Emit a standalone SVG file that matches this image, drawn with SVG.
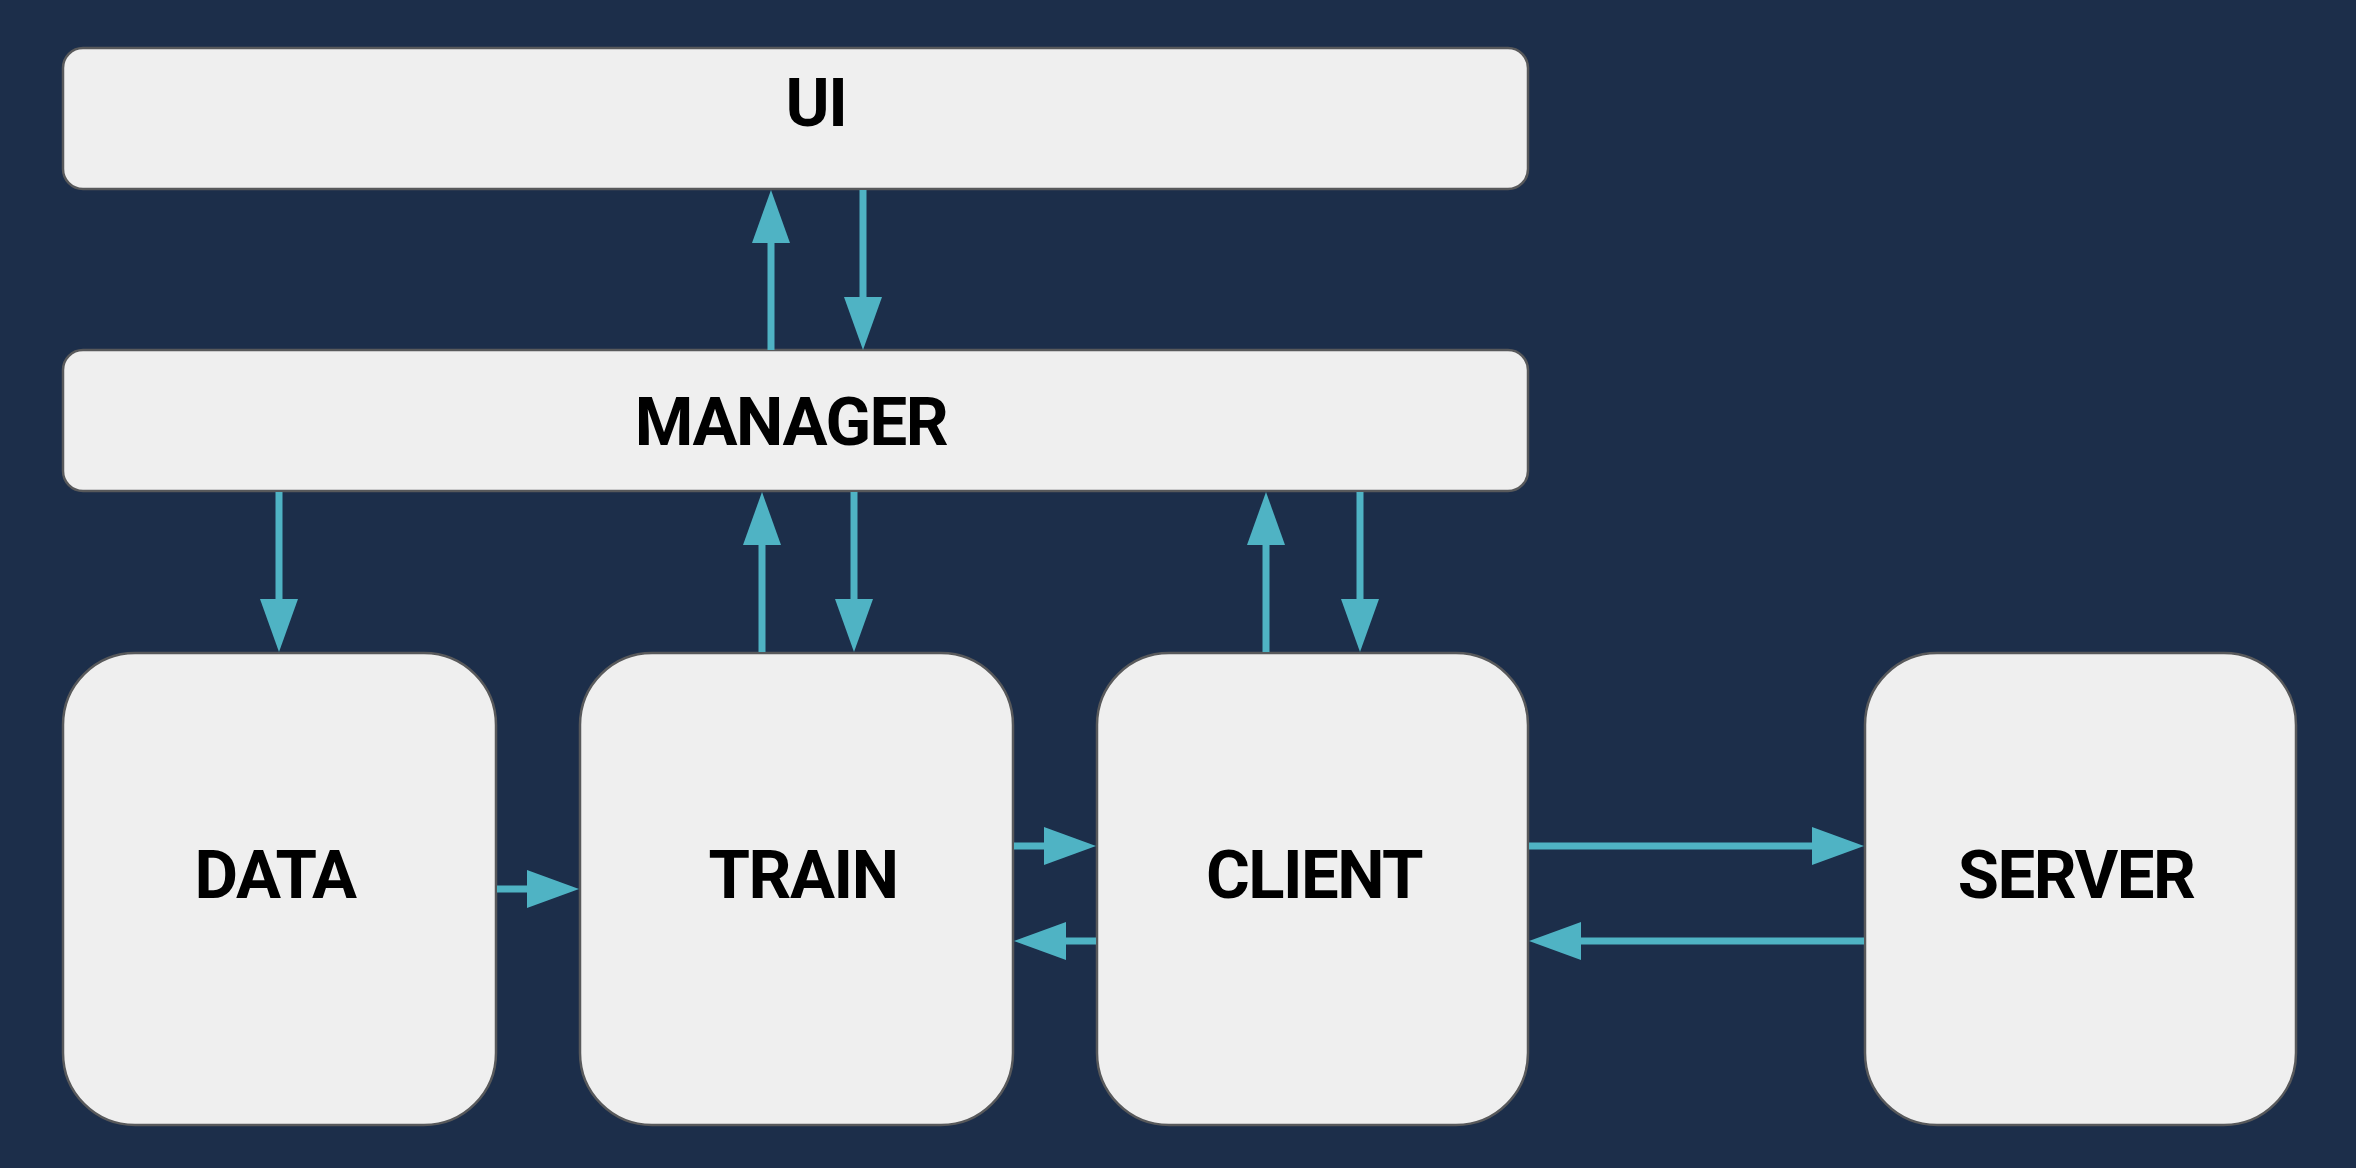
<svg xmlns="http://www.w3.org/2000/svg" width="2356" height="1168" viewBox="0 0 2356 1168">
<style>
.box{fill:#efefef;stroke:#58595b;stroke-width:2.5}
.lbl{font-family:Roboto,"Liberation Sans",sans-serif;font-weight:bold;font-size:67px;fill:#000;text-anchor:middle;letter-spacing:-1.5px}
.ln{stroke:#4fb3c4;stroke-width:7;fill:none}
.hd{fill:#4fb3c4}
</style>
<rect width="2356" height="1168" fill="#1c2e4a"/>
<g id="node-ui"><rect class="box" x="63" y="48" width="1465" height="141" rx="20"/><text class="lbl" x="816" y="126">UI</text></g>
<g id="node-manager"><rect class="box" x="63" y="350" width="1465" height="141" rx="20"/><text class="lbl" x="791" y="445">MANAGER</text></g>
<g id="node-data"><rect class="box" x="63" y="653" width="433" height="472" rx="72"/><text class="lbl" x="275" y="898">DATA</text></g>
<g id="node-train"><rect class="box" x="580" y="653" width="433" height="472" rx="72"/><text class="lbl" x="803" y="898">TRAIN</text></g>
<g id="node-client"><rect class="box" x="1097" y="653" width="431" height="472" rx="72"/><text class="lbl" x="1314" y="898">CLIENT</text></g>
<g id="node-server"><rect class="box" x="1865" y="653" width="431" height="472" rx="72"/><text class="lbl" x="2076" y="898">SERVER</text></g>
<g id="connectors">
<line class="ln" x1="771" y1="350" x2="771" y2="240"/><polygon class="hd" points="771,190 790,243 752,243"/>
<line class="ln" x1="863" y1="190" x2="863" y2="300"/><polygon class="hd" points="863,350 882,297 844,297"/>
<line class="ln" x1="279" y1="492" x2="279" y2="602"/><polygon class="hd" points="279,652 298,599 260,599"/>
<line class="ln" x1="762" y1="652" x2="762" y2="542"/><polygon class="hd" points="762,492 781,545 743,545"/>
<line class="ln" x1="854" y1="492" x2="854" y2="602"/><polygon class="hd" points="854,652 873,599 835,599"/>
<line class="ln" x1="1266" y1="652" x2="1266" y2="542"/><polygon class="hd" points="1266,492 1285,545 1247,545"/>
<line class="ln" x1="1360" y1="492" x2="1360" y2="602"/><polygon class="hd" points="1360,652 1379,599 1341,599"/>
<line class="ln" x1="497" y1="889" x2="530" y2="889"/><polygon class="hd" points="579,889 527,870 527,908"/>
<line class="ln" x1="1014" y1="846" x2="1047" y2="846"/><polygon class="hd" points="1096,846 1044,827 1044,865"/>
<line class="ln" x1="1096" y1="941" x2="1063" y2="941"/><polygon class="hd" points="1014,941 1066,922 1066,960"/>
<line class="ln" x1="1529" y1="846" x2="1815" y2="846"/><polygon class="hd" points="1864,846 1812,827 1812,865"/>
<line class="ln" x1="1864" y1="941" x2="1578" y2="941"/><polygon class="hd" points="1529,941 1581,922 1581,960"/>
</g>
</svg>
